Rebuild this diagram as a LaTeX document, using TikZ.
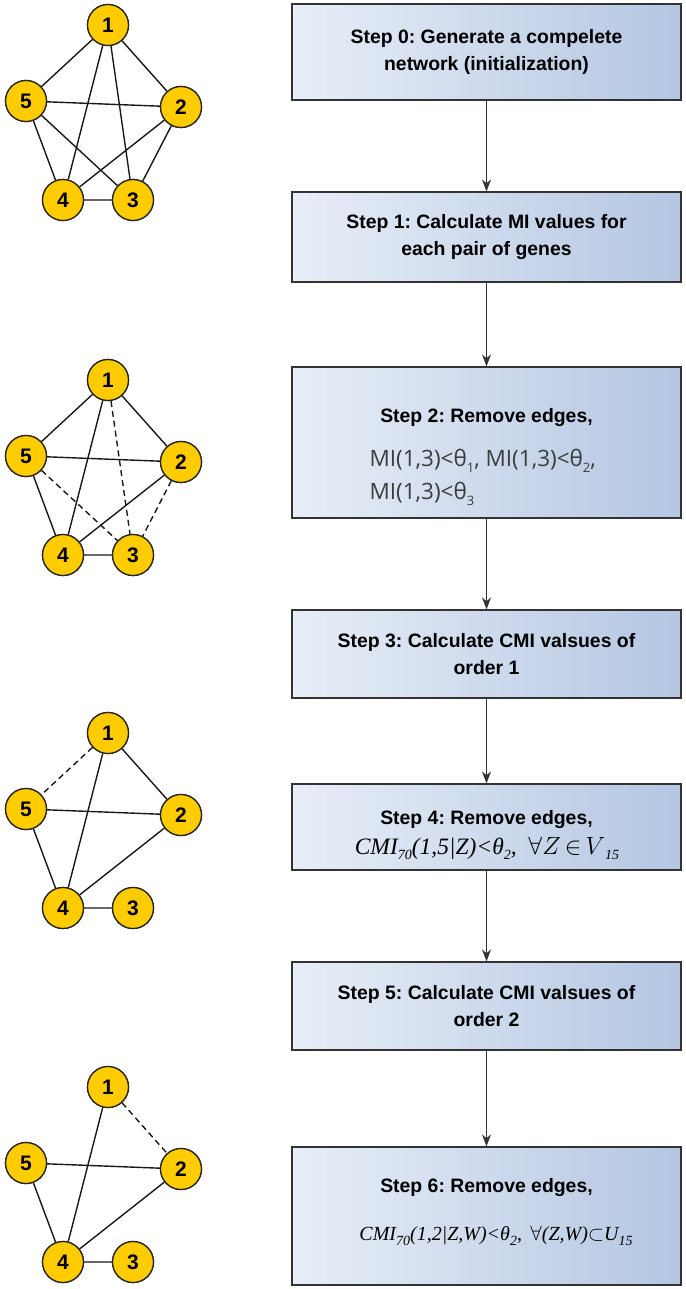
\documentclass[tikz,border=0pt]{standalone}
\usepackage{fontspec}
\usepackage{graphicx}
\setmainfont{Liberation Sans}
\newfontfamily\mifont{Open Sans}
\newfontfamily\tmfont{Liberation Serif}
\usetikzlibrary{arrows.meta}
\frenchspacing
\definecolor{gold}{RGB}{255,204,0}
\definecolor{boxL}{RGB}{232,238,247}
\definecolor{boxR}{RGB}{180,198,226}
\definecolor{edgec}{RGB}{51,51,51}
\definecolor{migray}{RGB}{60,60,60}
\newcommand\lowsub[2]{\raisebox{-#2}{\fontsize{13}{13}\selectfont #1}}
\newcommand\tsub[1]{\raisebox{-5pt}{\fontsize{14}{14}\selectfont\itshape #1}}
\tikzset{
  stepbox/.style={draw=edgec, line width=1.2pt, left color=boxL, right color=boxR, minimum width=389pt, inner sep=0pt},
  steptext/.style={font=\fontsize{19.4}{27}\selectfont\bfseries, align=center, text=black},
  gnode/.style={circle, draw=black!85, line width=1.3pt, fill=gold, minimum size=41pt, inner sep=0pt, font=\fontsize{21}{21}\selectfont\bfseries},
  gedge/.style={line width=1.4pt, black!90},
  gdash/.style={gedge, dash pattern=on 6pt off 4pt},
  arr/.style={line width=1.1pt, edgec, -{Stealth[length=12pt,width=9pt]}},
}
\newcommand\netnodes[2]{%
  \node[gnode] (#1a) at (108,#2) {1};
  \node[gnode] (#1b) at (181,#2+82) {2};
  \node[gnode] (#1c) at (133,#2+175) {3};
  \node[gnode] (#1d) at (63,#2+175) {4};
  \node[gnode] (#1e) at (26,#2+76) {5};
}
\begin{document}
\begin{tikzpicture}[x=1pt,y=-1pt]
\useasboundingbox (0,0) rectangle (685,1289);
% boxes
\node[stepbox, minimum height=96pt] (s0) at (486.5,52) {};
\node[stepbox, minimum height=90pt] (s1) at (486.5,237) {};
\node[stepbox, minimum height=151pt] (s2) at (486.5,442.5) {};
\node[stepbox, minimum height=88pt] (s3) at (486.5,654) {};
\node[stepbox, minimum height=86pt] (s4) at (486.5,827) {};
\node[stepbox, minimum height=88pt] (s5) at (486.5,1006) {};
\node[stepbox, minimum height=138pt] (s6) at (486.5,1216) {};
% texts
\node[steptext] (t0) at (486.5,52) {Step 0: Generate a compelete\\network (initialization)};
\node[steptext] (t1) at (486.5,237) {Step 1: Calculate MI values for\\each pair of genes};
\node[steptext] (t2) at (486.5,418) {Step 2: Remove edges,};
\node[anchor=west, font=\fontsize{22.5}{22.5}\mifont, text=migray] (f2a) at (366,461) {MI(1,3)<θ\lowsub{1}{6pt}, MI(1,3)<θ\lowsub{2}{6pt},};
\node[anchor=west, font=\fontsize{22.5}{22.5}\mifont, text=migray] (f2b) at (366,494) {MI(1,3)<θ\lowsub{3}{6pt}};
\node[steptext] (t3) at (486.5,654) {Step 3: Calculate CMI valsues of\\order 1};
\node[steptext] (t4) at (486.5,820) {Step 4: Remove edges,};
\node[font=\fontsize{23.5}{23.5}\tmfont\itshape] (f4) at (487,848) {CMI\tsub{70}(1,5|Z)<θ\tsub{2},\ \ $\forall Z\,{\in}\,V$\tsub{15}};
\node[steptext] (t5) at (486.5,1006) {Step 5: Calculate CMI valsues of\\order 2};
\node[steptext] (t6) at (486.5,1188) {Step 6: Remove edges,};
\node[font=\fontsize{20}{20}\tmfont\itshape] (f6) at (496,1236) {CMI\tsub{70}(1,2|Z,W)<θ\tsub{2}, \,$\forall$(Z,W)$\subset$U\tsub{15}};
% arrows
\draw[arr] (s0.south) -- (s1.north);
\draw[arr] (s1.south) -- (s2.north);
\draw[arr] (s2.south) -- (s3.north);
\draw[arr] (s3.south) -- (s4.north);
\draw[arr] (s4.south) -- (s5.north);
\draw[arr] (s5.south) -- (s6.north);
% graph 0
\netnodes{p}{25}
\draw[gedge] (pa) -- (pb) (pa) -- (pc) (pa) -- (pd) (pa) -- (pe)
  (pb) -- (pc) (pb) -- (pd) (pb) -- (pe) (pc) -- (pd) (pc) -- (pe) (pd) -- (pe);
% graph 2
\netnodes{q}{380}
\draw[gedge] (qa) -- (qb) (qa) -- (qd) (qa) -- (qe) (qb) -- (qd) (qb) -- (qe) (qc) -- (qd) (qd) -- (qe);
\draw[gdash] (qa) -- (qc) (qe) -- (qc) (qb) -- (qc);
% graph 4
\netnodes{r}{733}
\draw[gedge] (ra) -- (rb) (ra) -- (rd) (rb) -- (rd) (rb) -- (re) (rc) -- (rd) (rd) -- (re);
\draw[gdash] (ra) -- (re);
% graph 6
\netnodes{u}{1087}
\draw[gedge] (ua) -- (ud) (ub) -- (ud) (ub) -- (ue) (uc) -- (ud) (ud) -- (ue);
\draw[gdash] (ua) -- (ub);
% redraw nodes on top
\netnodes{p}{25}
\netnodes{q}{380}
\netnodes{r}{733}
\netnodes{u}{1087}
\end{tikzpicture}
\end{document}
